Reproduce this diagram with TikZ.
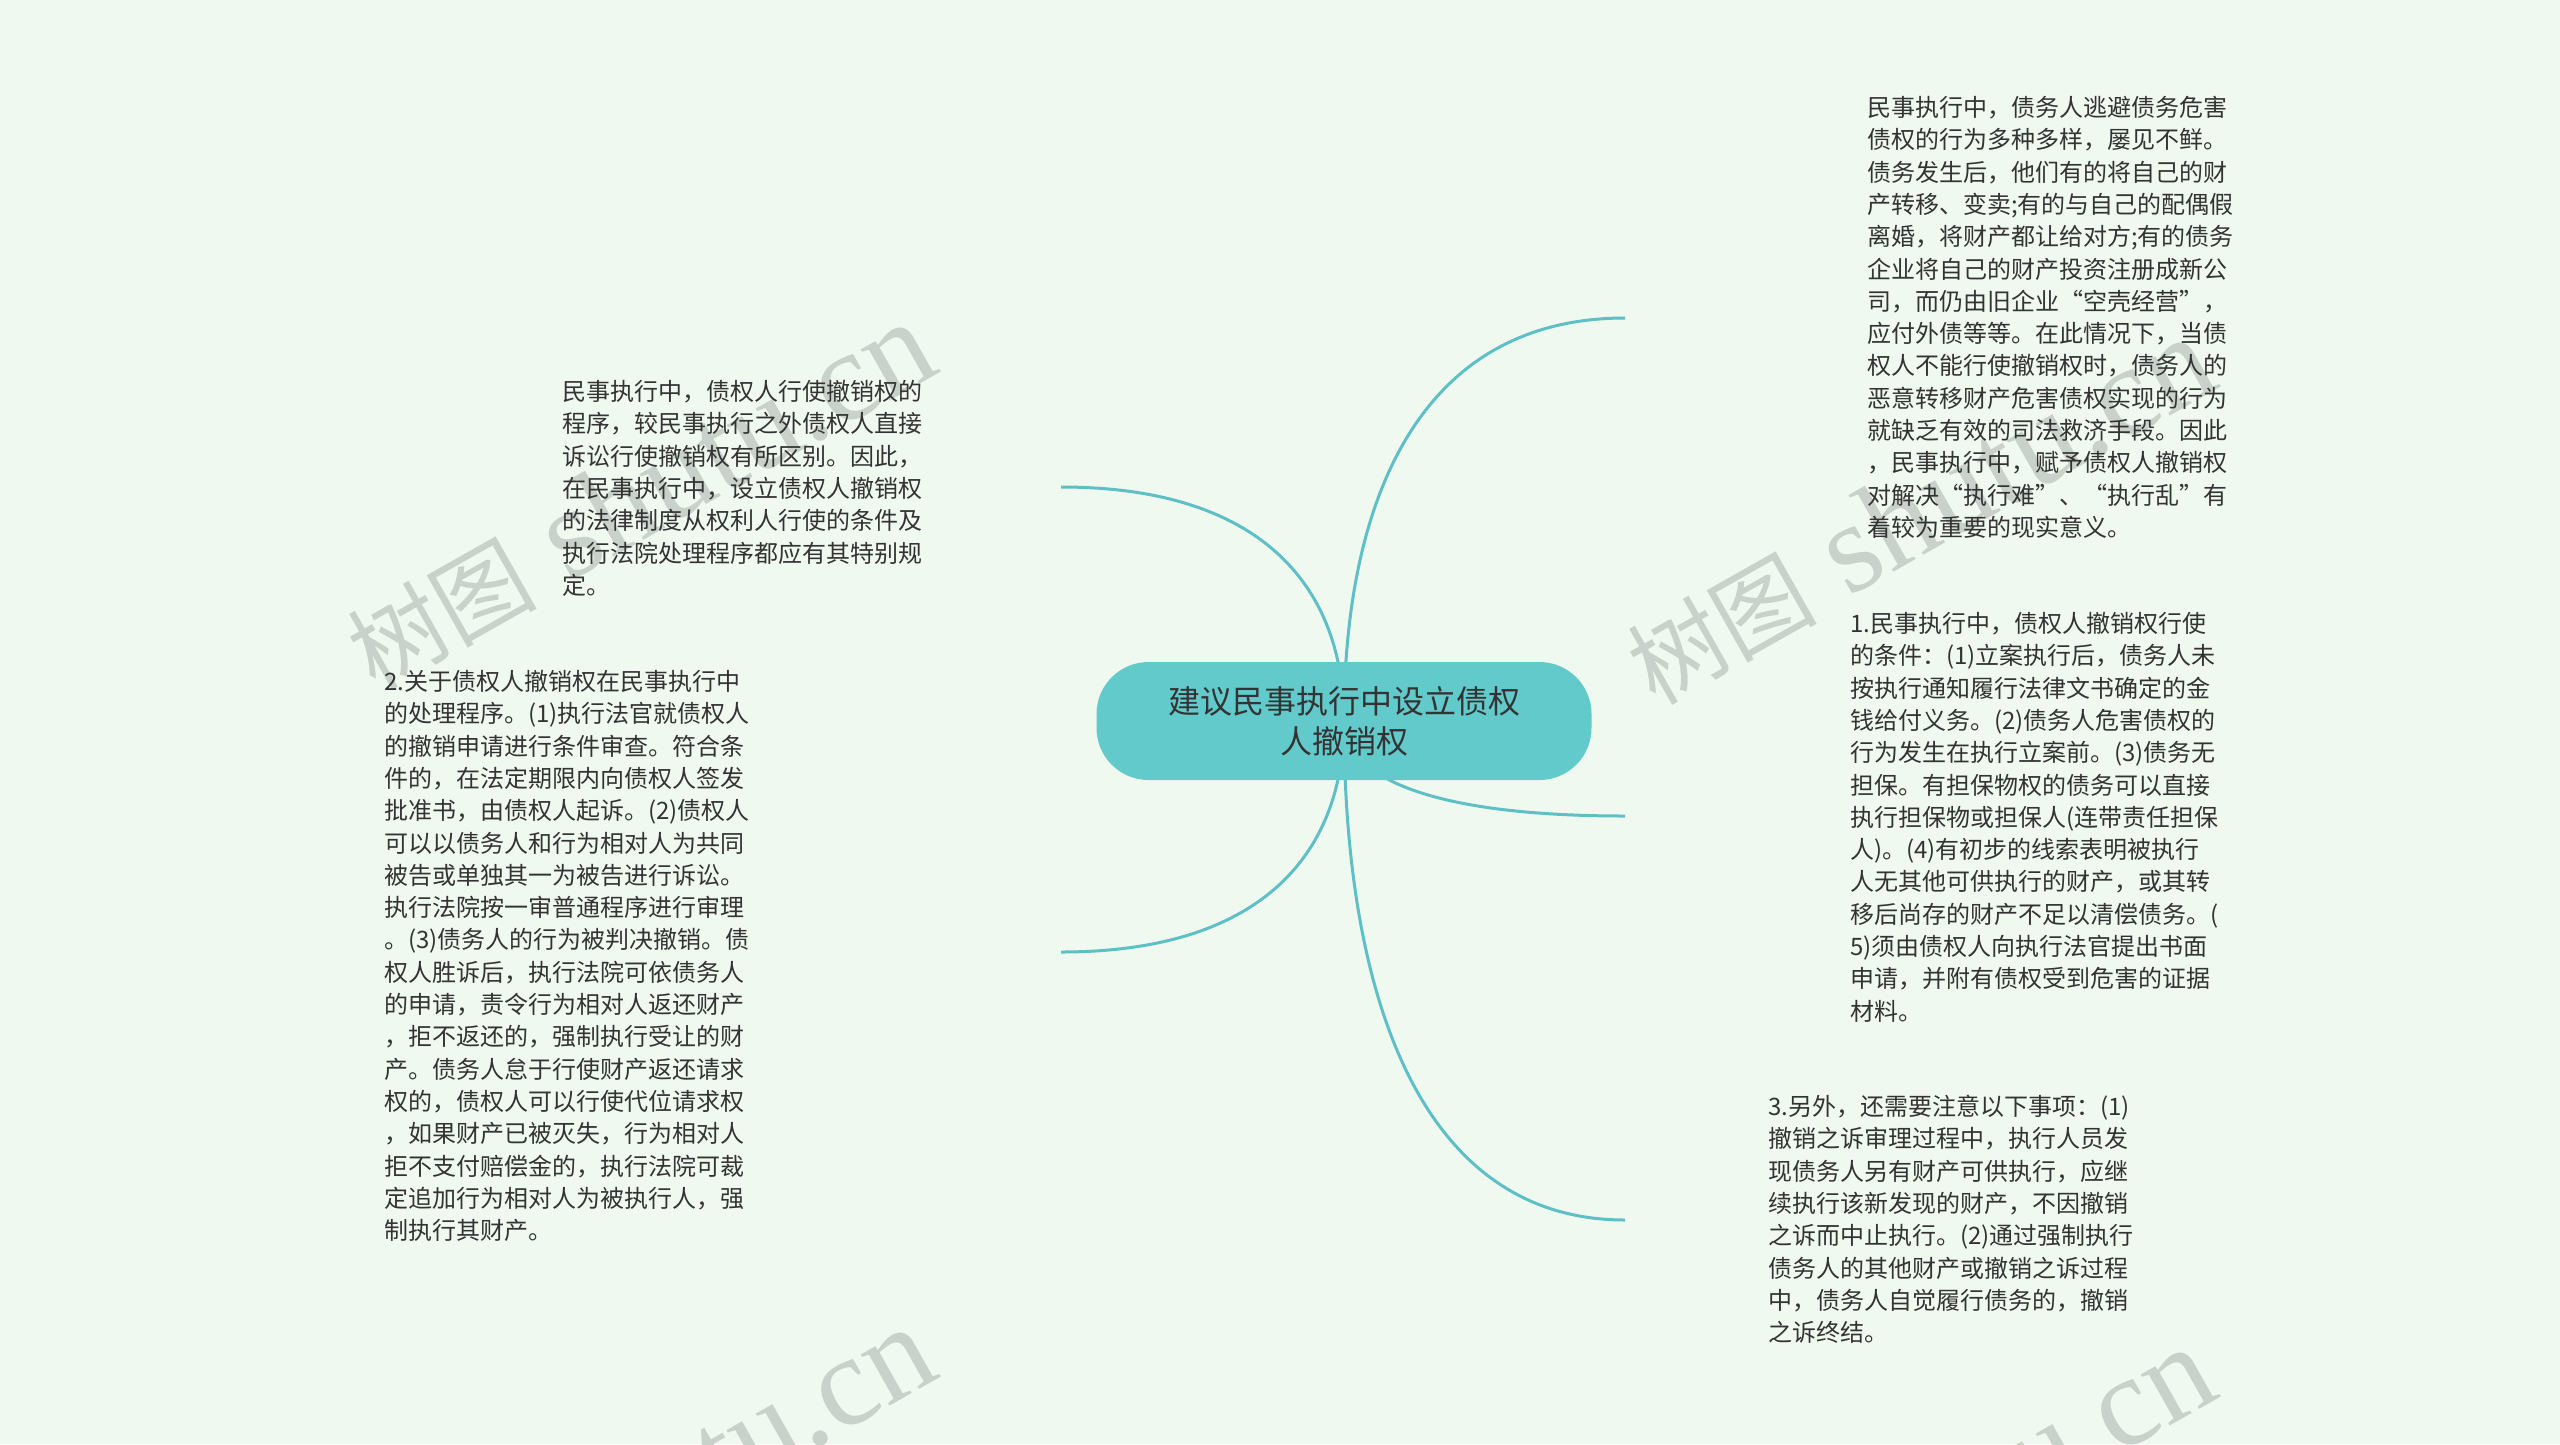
\documentclass[tikz,border=0pt]{standalone}
\usepackage{fontspec}
\setmainfont{Liberation Sans}
\newfontfamily\cjk{Noto Sans CJK SC}
\newfontfamily\wmlat{Liberation Serif}
\usetikzlibrary{backgrounds,calc}
\definecolor{bgc}{HTML}{EFF9EF}
\definecolor{rootfill}{HTML}{63CACC}
\definecolor{connc}{HTML}{5FBFC6}
\definecolor{txtc}{HTML}{333333}
\definecolor{wmc}{HTML}{C8D1CA}
\tikzset{
  root/.style={fill=rootfill, rounded corners=52pt, minimum width=495pt, minimum height=118pt,
    inner sep=0pt, align=center, text=txtc, font=\cjk\fontsize{32}{40}\selectfont},
  body/.style={anchor=north west, inner sep=0pt, align=left, text=txtc,
    font=\cjk\fontsize{24}{32.3}\selectfont},
  conn/.style={draw=connc, line width=3pt},
  wm/.style={anchor=base west, rotate=29.5, inner sep=0pt, text=wmc,
    font=\wmlat\fontsize{128}{128}\selectfont}
}
\newcommand\mmconn[1]{\draw[conn] (root.center) .. controls ($(root.center)!0.55!(root.center |- #1)$) and ($(#1)!0.73!(root.center |- #1)$) .. (#1);}
\newcommand\wmtext{{\cjk\fontsize{95}{95}\selectfont 树图} shutu.cn}
\begin{document}
\begin{tikzpicture}[x=1pt,y=-1pt]
\useasboundingbox (0,0) rectangle (2560,1444);
\node[root] (root) at (1344,721) {建议民事执行中设立债权\\人撤销权};

\node[body] (tr) at (1867,96) {民事执行中，债务人逃避债务危害\\%
债权的行为多种多样，屡见不鲜。\\%
债务发生后，他们有的将自己的财\\%
产转移、变卖;有的与自己的配偶假\\%
离婚，将财产都让给对方;有的债务\\%
企业将自己的财产投资注册成新公\\%
司，而仍由旧企业“空壳经营”，\\%
应付外债等等。在此情况下，当债\\%
权人不能行使撤销权时，债务人的\\%
恶意转移财产危害债权实现的行为\\%
就缺乏有效的司法救济手段。因此\\%
，民事执行中，赋予债权人撤销权\\%
对解决“执行难”、“执行乱”有\\%
着较为重要的现实意义。};

\node[body] (lu) at (562,380) {民事执行中，债权人行使撤销权的\\%
程序，较民事执行之外债权人直接\\%
诉讼行使撤销权有所区别。因此，\\%
在民事执行中，设立债权人撤销权\\%
的法律制度从权利人行使的条件及\\%
执行法院处理程序都应有其特别规\\%
定。};

\node[body] (ll) at (384,670) {2.关于债权人撤销权在民事执行中\\%
的处理程序。(1)执行法官就债权人\\%
的撤销申请进行条件审查。符合条\\%
件的，在法定期限内向债权人签发\\%
批准书，由债权人起诉。(2)债权人\\%
可以以债务人和行为相对人为共同\\%
被告或单独其一为被告进行诉讼。\\%
执行法院按一审普通程序进行审理\\%
。(3)债务人的行为被判决撤销。债\\%
权人胜诉后，执行法院可依债务人\\%
的申请，责令行为相对人返还财产\\%
，拒不返还的，强制执行受让的财\\%
产。债务人怠于行使财产返还请求\\%
权的，债权人可以行使代位请求权\\%
，如果财产已被灭失，行为相对人\\%
拒不支付赔偿金的，执行法院可裁\\%
定追加行为相对人为被执行人，强\\%
制执行其财产。};

\node[body] (rm) at (1850,612) {1.民事执行中，债权人撤销权行使\\%
的条件：(1)立案执行后，债务人未\\%
按执行通知履行法律文书确定的金\\%
钱给付义务。(2)债务人危害债权的\\%
行为发生在执行立案前。(3)债务无\\%
担保。有担保物权的债务可以直接\\%
执行担保物或担保人(连带责任担保\\%
人)。(4)有初步的线索表明被执行\\%
人无其他可供执行的财产，或其转\\%
移后尚存的财产不足以清偿债务。(\\%
5)须由债权人向执行法官提出书面\\%
申请，并附有债权受到危害的证据\\%
材料。};

\node[body] (rb) at (1768,1095) {3.另外，还需要注意以下事项：(1)\\%
撤销之诉审理过程中，执行人员发\\%
现债务人另有财产可供执行，应继\\%
续执行该新发现的财产，不因撤销\\%
之诉而中止执行。(2)通过强制执行\\%
债务人的其他财产或撤销之诉过程\\%
中，债务人自觉履行债务的，撤销\\%
之诉终结。};

\coordinate (eTR) at (1625,318);
\coordinate (eLU) at (1061,487);
\coordinate (eLL) at (1061,952);
\coordinate (eRM) at (1625,816);
\coordinate (eRB) at (1625,1220);

\begin{scope}[on background layer]
  \fill[bgc] (0,0) rectangle (2560,1444);
  \begin{scope}
    \clip (0,0) rectangle (2560,1444);
    \node[wm] (wm1) at (375,692) {\wmtext};
    \node[wm] (wm2) at (1655,707) {\wmtext};
    \node[wm] (wm3) at (375,1697) {\wmtext};
    \node[wm] (wm4) at (1655,1717) {\wmtext};
  \end{scope}
  \mmconn{eTR}
  \mmconn{eLU}
  \mmconn{eLL}
  \mmconn{eRM}
  \mmconn{eRB}
\end{scope}
\end{tikzpicture}
\end{document}
